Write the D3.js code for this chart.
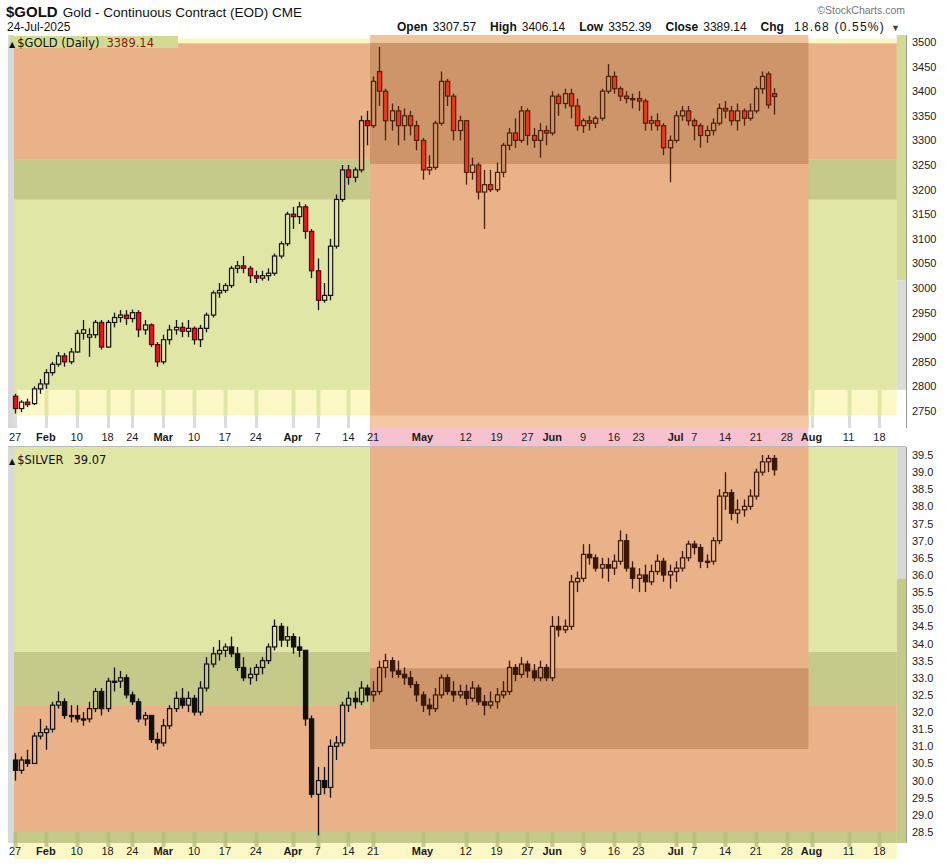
<!DOCTYPE html>
<html><head><meta charset="utf-8">
<script src="https://cdn.jsdelivr.net/npm/d3@7"></script>
<style>
body{margin:0;background:#fff;}
svg{display:block;font-family:"Liberation Sans",Arial,sans-serif;}
</style>
</head><body>
<svg id="chart" width="946" height="867"></svg>
<script>
// ---------------- DATA ----------------
const firstDay = "2025-01-27";
const lastAxisDay = "2025-08-22";
const holidays = ["2025-02-17","2025-04-18","2025-05-26","2025-06-19","2025-07-04"];

// x-axis tick labels (date, label)
const tickDates  = ["2025-01-27","2025-02-03","2025-02-10","2025-02-18","2025-02-24","2025-03-03","2025-03-10","2025-03-17","2025-03-24","2025-04-01","2025-04-07","2025-04-14","2025-04-21","2025-05-01","2025-05-12","2025-05-19","2025-05-27","2025-06-02","2025-06-09","2025-06-16","2025-06-23","2025-07-01","2025-07-07","2025-07-14","2025-07-21","2025-07-28","2025-08-01","2025-08-11","2025-08-18"];
const tickLabels = ["27","Feb","10","18","24","Mar","10","17","24","Apr","7","14","21","May","12","19","27","Jun","9","16","23","Jul","7","14","21","28","Aug","11","18"];

const goldTicks = [2750,2800,2850,2900,2950,3000,3050,3100,3150,3200,3250,3300,3350,3400,3450,3500];
const silverTicks = [28.5,29,29.5,30,30.5,31,31.5,32,32.5,33,33.5,34,34.5,35,35.5,36,36.5,37,37.5,38,38.5,39,39.5];

const headerLabels = ["Open","High","Low","Close","Chg"];
const headerValues = ["3307.57","3406.14","3352.39","3389.14","18.68 (0.55%)"];

// $GOLD daily [open, high, low, close], 27 Jan .. 24 Jul 2025
const goldOHLC = [
[2780,2785,2745,2755],[2755,2772,2748,2768],[2768,2775,2758,2763],[2765,2800,2762,2795],[2795,2815,2785,2805],
[2805,2835,2795,2828],[2828,2850,2822,2845],[2845,2870,2840,2862],[2862,2868,2840,2850],[2850,2878,2845,2870],
[2870,2915,2868,2908],[2908,2935,2895,2915],[2900,2918,2860,2905],[2905,2935,2898,2930],[2930,2935,2875,2880],
[2880,2935,2878,2930],[2930,2950,2920,2940],[2940,2955,2930,2945],[2945,2955,2925,2938],
[2938,2956,2930,2950],[2950,2955,2900,2915],[2915,2935,2905,2925],[2925,2928,2880,2885],[2885,2890,2840,2850],
[2850,2905,2845,2895],[2895,2925,2885,2915],[2915,2935,2905,2920],[2920,2930,2900,2912],[2912,2935,2900,2918],
[2918,2922,2885,2895],[2895,2925,2880,2918],[2918,2950,2910,2945],[2945,2995,2940,2990],[2990,3010,2980,2995],
[2995,3010,2990,3005],[3005,3045,3000,3040],[3040,3055,3030,3045],[3045,3065,3030,3040],[3040,3045,3010,3025],
[3025,3035,3010,3020],[3020,3035,3015,3025],[3025,3040,3015,3030],[3030,3070,3025,3065],[3065,3095,3060,3090],
[3090,3155,3085,3150],[3150,3165,3120,3145],[3145,3175,3130,3165],[3165,3170,3100,3115],[3115,3120,3020,3035],
[3035,3060,2955,2975],[2975,3010,2970,2985],[2985,3100,2975,3085],[3085,3190,3080,3180],[3180,3250,3175,3240],
[3240,3250,3210,3225],[3225,3245,3215,3240],[3240,3350,3235,3340],[3340,3360,3290,3330],
[3330,3430,3325,3420],[3440,3490,3370,3400],[3400,3405,3300,3340],[3340,3375,3320,3360],[3360,3370,3290,3330],
[3330,3365,3300,3350],[3350,3360,3310,3330],[3330,3340,3280,3300],
[3300,3305,3220,3240],[3240,3270,3230,3245],
[3245,3340,3240,3335],[3335,3440,3330,3420],[3420,3425,3370,3390],[3390,3395,3300,3320],[3320,3350,3300,3340],
[3340,3340,3210,3235],[3235,3265,3220,3250],[3250,3255,3180,3195],[3195,3240,3120,3210],[3210,3240,3195,3200],
[3200,3255,3195,3235],[3235,3295,3225,3290],[3290,3325,3280,3315],[3315,3345,3285,3300],[3300,3370,3295,3360],
[3360,3365,3290,3310],[3310,3325,3285,3300],[3300,3335,3265,3320],[3320,3330,3290,3315],
[3315,3400,3310,3390],[3390,3395,3350,3375],[3375,3405,3365,3395],[3395,3405,3345,3370],[3370,3385,3320,3330],
[3330,3345,3315,3340],[3340,3350,3320,3335],[3335,3350,3325,3345],[3345,3405,3340,3400],[3400,3455,3395,3430],
[3430,3440,3395,3405],[3405,3410,3380,3390],[3390,3400,3375,3385],[3385,3395,3365,3385],
[3385,3400,3360,3380],[3380,3385,3320,3335],[3335,3350,3320,3340],[3340,3355,3320,3330],[3330,3335,3270,3285],
[3285,3310,3215,3300],
[3300,3360,3295,3350],[3350,3370,3340,3360],[3360,3370,3330,3340],
[3340,3345,3300,3330],[3330,3335,3285,3310],[3310,3330,3295,3320],[3320,3345,3310,3335],[3335,3375,3330,3365],
[3365,3380,3345,3360],[3360,3370,3330,3340],[3340,3375,3320,3360],[3360,3365,3330,3345],[3345,3375,3340,3360],
[3360,3410,3355,3405],[3405,3440,3395,3430],[3435,3440,3365,3372],[3395,3406.14,3352.39,3389.14]
];

// $SILVER daily [open, high, low, close]
const silverOHLC = [
[30.6,30.8,30.0,30.3],[30.3,30.7,30.2,30.6],[30.6,30.9,30.4,30.5],[30.5,31.4,30.5,31.3],[31.3,31.8,31.2,31.4],
[31.4,31.6,30.9,31.5],[31.5,32.3,31.4,32.2],[32.2,32.6,32.1,32.3],[32.3,32.4,31.8,31.9],[31.9,32.2,31.7,31.9],
[31.9,32.2,31.7,31.8],[31.8,32.0,31.6,31.8],[31.8,32.3,31.7,32.1],[32.1,32.7,32.0,32.6],[32.6,32.7,31.9,32.1],
[32.1,33.0,32.0,32.9],[32.9,33.3,32.6,32.9],[32.9,33.2,32.7,33.0],[33.0,33.1,32.4,32.5],
[32.5,32.6,32.2,32.3],[32.3,32.4,31.7,31.8],[31.8,32.0,31.6,31.9],[31.9,31.9,31.1,31.2],[31.2,31.4,30.9,31.1],
[31.1,31.8,31.0,31.6],[31.6,32.2,31.5,32.1],[32.1,32.6,32.0,32.4],[32.4,32.7,32.1,32.2],[32.2,32.6,32.0,32.4],
[32.4,32.5,31.9,32.0],[32.0,32.9,31.9,32.7],[32.7,33.6,32.6,33.4],[33.4,33.9,33.3,33.7],[33.7,34.1,33.5,33.8],
[33.8,34.0,33.6,33.9],[33.9,34.2,33.6,33.7],[33.7,33.9,33.2,33.3],[33.3,33.6,32.9,33.0],[33.0,33.3,32.8,33.1],
[33.1,33.4,32.9,33.3],[33.3,33.6,33.1,33.5],[33.5,34.0,33.4,33.9],[33.9,34.7,33.8,34.5],[34.5,34.6,33.9,34.1],
[34.1,34.5,33.9,34.2],[34.2,34.3,33.7,33.9],[33.9,34.2,33.6,33.8],[33.8,33.8,31.6,31.8],[31.8,31.9,29.5,29.6],
[29.6,30.4,28.4,30.0],[30.0,30.4,29.6,29.8],[29.8,31.2,29.5,31.0],[31.0,31.3,30.6,31.1],[31.1,32.3,31.0,32.2],
[32.2,32.6,32.0,32.4],[32.4,32.6,32.1,32.3],[32.3,32.9,32.2,32.7],[32.7,32.8,32.3,32.5],
[32.5,32.9,32.3,32.6],[32.6,33.5,32.5,33.3],[33.3,33.7,33.0,33.5],[33.5,33.6,33.0,33.2],[33.2,33.5,33.0,33.1],
[33.1,33.3,32.8,33.0],[33.0,33.2,32.7,32.8],[32.8,32.9,32.3,32.5],
[32.5,32.6,32.0,32.2],[32.2,32.4,31.9,32.1],
[32.1,32.7,32.0,32.5],[32.5,33.1,32.4,33.0],[33.0,33.1,32.5,32.6],[32.6,32.9,32.3,32.5],[32.5,32.8,32.4,32.6],
[32.6,32.8,32.2,32.4],[32.4,32.9,32.3,32.7],[32.7,32.8,32.2,32.3],[32.3,32.5,31.9,32.2],[32.2,32.6,32.1,32.3],
[32.3,32.7,32.1,32.5],[32.5,32.9,32.4,32.6],[32.6,33.5,32.5,33.3],[33.3,33.4,32.9,33.1],[33.1,33.6,33.0,33.4],
[33.4,33.5,33.0,33.2],[33.2,33.4,32.9,33.0],[33.0,33.5,32.9,33.3],[33.3,33.4,32.9,33.0],
[33.0,34.8,32.9,34.5],[34.5,34.8,34.2,34.4],[34.4,34.7,34.3,34.5],[34.5,36.0,34.4,35.8],[35.8,36.1,35.5,35.9],
[35.9,36.9,35.8,36.6],[36.6,36.9,36.3,36.5],[36.5,36.6,36.1,36.2],[36.2,36.5,35.9,36.3],[36.3,36.5,35.8,36.2],
[36.2,36.6,36.0,36.4],[36.4,37.3,36.3,37.0],[37.0,37.2,36.1,36.2],[36.2,36.4,35.6,35.9],
[35.9,36.2,35.5,36.0],[36.0,36.3,35.5,35.8],[35.8,36.3,35.7,36.1],[36.1,36.6,36.0,36.4],[36.4,36.5,35.8,36.0],
[36.0,36.3,35.6,36.1],
[36.1,36.4,35.8,36.2],[36.2,36.7,36.1,36.5],[36.5,37.0,36.4,36.9],
[36.9,37.0,36.6,36.8],[36.8,36.9,36.2,36.4],[36.4,36.6,36.2,36.4],[36.4,37.1,36.3,37.0],[37.0,38.5,36.9,38.3],
[38.3,39.0,37.9,38.4],[38.4,38.5,37.6,37.8],[37.8,38.2,37.5,37.9],[37.9,38.2,37.7,38.0],[38.0,38.5,37.9,38.3],
[38.3,39.1,38.2,39.0],[39.0,39.5,38.9,39.3],[39.3,39.5,39.0,39.4],[39.4,39.5,38.9,39.07]
];

// highlighted zones (value terms)
const focusStart = "2025-04-17", focusEnd = "2025-07-31";
const goldZones   = {upper: 3262, mid: 3180, pale: 2793, paleEnd: 2741, focusSplit: 3252, rightGrey: 3015};
const silverZones = {mid: 33.75, low: 32.2, floor: 28.5, focusHi: 33.28, focusLo: 30.92, rightGrey: 35.9};

// ---------------- BUILD ----------------
const fmt = d3.timeFormat("%Y-%m-%d");
const parse = d3.timeParse("%Y-%m-%d");
const days = d3.timeDay.range(parse(firstDay), d3.timeDay.offset(parse(lastAxisDay),1))
  .filter(d => d.getDay()!==0 && d.getDay()!==6 && !holidays.includes(fmt(d)))
  .map(fmt);
const idx = s => days.indexOf(s);

const L = 8, R = 906;
const x = d3.scaleLinear().domain([-1.134, 144.3]).range([L, R]);
const ZL = x(-0.15), ZR = x(142.8);

const svg = d3.select("#chart");
const C = {
  lightGreen:"#dfe6a6", darkGreen:"#c5ca8b", orange:"#e9b288", brown:"#cd9569",
  pale:"#fbf8c6", pink:"#f6c2cf", grey:"#d9d9d9"
};
const fx0 = x(idx(focusStart)+0.5), fx1 = x(idx(focusEnd)+0.5);

function rect(g, x0, x1, y0, y1, fill){
  g.append("rect").attr("x",x0).attr("y",Math.min(y0,y1)).attr("width",x1-x0)
   .attr("height",Math.abs(y1-y0)).attr("fill",fill);
}
function gridCols(g, y0, y1, color, w){
  g.append("g").selectAll("rect").data(tickDates).join("rect")
    .attr("x", t => Math.round(x(idx(t)))-w/2+0.5).attr("width", w)
    .attr("y", Math.min(y0,y1)).attr("height", Math.abs(y1-y0)).attr("fill", color);
}

function candles(g, data, y, pal){
  const sel = g.append("g").selectAll("g").data(data).join("g");
  sel.each(function(d,i){
    const inF = i>idx(focusStart);
    const p = inF ? pal.focus : pal.normal;
    const cx = Math.round(x(i));
    const up = d[3] >= d[0];
    const s = d3.select(this);
    s.append("line").attr("x1",cx+0.5).attr("x2",cx+0.5).attr("y1",y(d[1])).attr("y2",y(d[2]))
      .attr("stroke",p.wick).attr("stroke-width",1.3);
    const top = y(Math.max(d[0],d[3])), bot = y(Math.min(d[0],d[3]));
    s.append("rect").attr("x",cx-1.5).attr("y",top).attr("width",4.2).attr("height",Math.max(1.2,bot-top))
      .attr("fill", up ? (inF? pal.focusBg(d): pal.bg(d)) : p.down)
      .attr("stroke", up ? p.wick : p.downStroke).attr("stroke-width",1.2);
  });
}

// ===== TOP PANEL =====
const yG = d3.scaleLinear().domain([2750,3500]).range([411,42]);
const topT = 35, topB = 428;
const gTop = svg.append("g");
rect(gTop, L, R, topT, topB, "#ffffff");
rect(gTop, L, ZL, topT, topB, C.grey);
gridCols(gTop, yG(goldZones.paleEnd), topB, "#dcdcdc", 3);
rect(gTop, ZL, ZR, yG(goldZones.paleEnd), yG(3507), C.pale);
gridCols(gTop, yG(goldZones.paleEnd), yG(goldZones.pale), C.lightGreen, 4);
rect(gTop, ZL, ZR, yG(goldZones.pale), yG(3497), C.lightGreen);
rect(gTop, ZL, ZR, yG(goldZones.mid), yG(goldZones.upper), C.darkGreen);
rect(gTop, ZL, ZR, yG(goldZones.upper), yG(3497), C.orange);
rect(gTop, ZR, R, yG(goldZones.rightGrey), topT, "#d2da96");
rect(gTop, ZR, R, yG(goldZones.pale), yG(goldZones.rightGrey), "#dcdcdc");
rect(gTop, fx0, fx1, topB, yG(goldZones.focusSplit), C.orange);
rect(gTop, fx0, fx1, yG(goldZones.focusSplit), yG(3499), C.brown);
rect(gTop, fx0, fx1, yG(3499), topT, "#f1c59c");
rect(gTop, fx0, fx1, yG(goldZones.paleEnd), topB, "#f3c8a2");

const goldBg = d => { const c=(d[0]+d[3])/2; return c>goldZones.upper?C.orange:(c>goldZones.mid?C.darkGreen:(c>goldZones.pale?C.lightGreen:C.pale)); };
candles(gTop, goldOHLC, yG, {
  normal:{wick:"#141414", down:"#e5141e", downStroke:"#5a0508"},
  focus:{wick:"#4a2008", down:"#e83a22", downStroke:"#5a1e08"},
  bg: goldBg,
  focusBg: d => ((d[0]+d[3])/2 > goldZones.focusSplit ? C.brown : C.orange)
});
gTop.append("line").attr("x1",R+0.5).attr("x2",R+0.5).attr("y1",topT).attr("y2",topB).attr("stroke","#9a9a9a");

const yAxG = d3.axisRight(yG).tickValues(goldTicks).tickSize(0).tickPadding(6).tickFormat(d3.format("d"));
gTop.append("g").attr("transform",`translate(${R},0)`).call(yAxG)
  .call(g=>g.select(".domain").remove())
  .call(g=>g.selectAll("text").attr("font-size",11).attr("fill","#222").attr("font-family","Liberation Sans, Arial"));

const rowTop0 = 428, rowTop1 = 446;
rect(gTop, L, R, rowTop0, rowTop1, "#ffffff");
rect(gTop, fx0, fx1, rowTop0, rowTop1, C.pink);
gTop.append("line").attr("x1",L).attr("x2",R).attr("y1",rowTop1+0.5).attr("y2",rowTop1+0.5).attr("stroke","#bbbbbb");

function xLabels(g, baseline){
  g.append("g").selectAll("text").data(tickDates).join("text")
    .attr("x", t => x(idx(t))).attr("y", baseline).attr("text-anchor","middle")
    .attr("font-size",11).attr("fill","#1a1a1a")
    .attr("font-weight",(t,i)=> isNaN(+tickLabels[i]) ? "bold" : "normal")
    .text((t,i)=>tickLabels[i]);
}
xLabels(gTop, 441);

// ===== BOTTOM PANEL =====
const yS = d3.scaleLinear().domain([28.5,39.5]).range([832,455]);
const botT = 447, botB = 843;
const gBot = svg.append("g");
rect(gBot, L, R, botT, botB, "#ffffff");
rect(gBot, L, ZL, botT, botB, C.grey);
rect(gBot, ZL, ZR, botT, botB, C.lightGreen);
rect(gBot, ZL, ZR, yS(silverZones.low), yS(silverZones.mid), C.darkGreen);
rect(gBot, ZL, ZR, yS(silverZones.floor), yS(silverZones.low), C.orange);
rect(gBot, ZL, ZR, botB, yS(silverZones.floor), C.darkGreen);
gridCols(gBot, botB, yS(silverZones.floor), "#b9bf80", 4);
rect(gBot, ZR, R, botT, yS(silverZones.rightGrey), "#d8d8d8");
rect(gBot, ZR, R, yS(silverZones.rightGrey), botB, C.darkGreen);
rect(gBot, fx0, fx1, yS(silverZones.floor), botT, C.orange);
rect(gBot, fx0, fx1, yS(silverZones.focusLo), yS(silverZones.focusHi), C.brown);

const silverBg = d => { const c=(d[0]+d[3])/2; return c>silverZones.mid?C.lightGreen:(c>silverZones.low?C.darkGreen:C.orange); };
candles(gBot, silverOHLC, yS, {
  normal:{wick:"#101010", down:"#101010", downStroke:"#101010"},
  focus:{wick:"#3a1805", down:"#3a1805", downStroke:"#3a1805"},
  bg: silverBg,
  focusBg: d => { const c=(d[0]+d[3])/2; return (c<silverZones.focusHi && c>silverZones.focusLo)?C.brown:C.orange; }
});
gBot.append("line").attr("x1",R+0.5).attr("x2",R+0.5).attr("y1",botT).attr("y2",botB).attr("stroke","#9a9a9a");
const yAxS = d3.axisRight(yS).tickValues(silverTicks).tickSize(0).tickPadding(6).tickFormat(d3.format(".1f"));
gBot.append("g").attr("transform",`translate(${R},0)`).call(yAxS)
  .call(g=>g.select(".domain").remove())
  .call(g=>g.selectAll("text").attr("font-size",11).attr("fill","#222").attr("font-family","Liberation Sans, Arial"));
rect(gBot, ZL, ZR, botB, 859, C.pale);
gridCols(gBot, botB, botB+4, C.darkGreen, 4);
xLabels(gBot, 855);

// ===== TITLES & LEGENDS =====
const t1 = svg.append("text").attr("x",6).attr("y",17).attr("fill","#111");
t1.append("tspan").attr("font-weight","bold").attr("font-size",15).text("$GOLD");
t1.append("tspan").attr("font-size",13.5).attr("dx",5).text("Gold - Continuous Contract (EOD) CME");
svg.append("text").attr("x",7).attr("y",31).attr("font-size",12).attr("fill","#111").text("24-Jul-2025");

const t2 = svg.append("text").attr("x",397).attr("y",31).attr("font-size",12).attr("fill","#111");
headerLabels.forEach((lab,i)=>{
  t2.append("tspan").attr("font-weight","bold").attr("dx", i? 14:0).text(lab);
  t2.append("tspan").attr("dx", i===4 ? 10 : 5).attr("letter-spacing", i===4 ? 1.2 : 0).text(headerValues[i]);
});
t2.append("tspan").attr("dx",6).attr("font-size",9).attr("fill","#444").text("▼");
svg.append("text").attr("x",905).attr("y",14).attr("text-anchor","end").attr("font-size",10.5).attr("fill","#777").text("©StockCharts.com");

// legends
rect(svg, 10, 178, 36, 48, "#d3db93");
const lg = svg.append("text").attr("x",9).attr("y",46.5).attr("font-size",11.5)
  .attr("font-family","DejaVu Sans, sans-serif").attr("fill","#111");
lg.append("tspan").attr("font-size",8).text("▲");
lg.append("tspan").attr("dx",2).text("$GOLD (Daily)");
lg.append("tspan").attr("dx",7).attr("fill","#9a1010").text("3389.14");
const ls = svg.append("text").attr("x",9).attr("y",464).attr("font-size",11.5)
  .attr("font-family","DejaVu Sans, sans-serif").attr("fill","#111");
ls.append("tspan").attr("font-size",8).text("▲");
ls.append("tspan").attr("dx",2).text("$SILVER");
ls.append("tspan").attr("dx",10).attr("fill","#111").text("39.07");
</script>
</body></html>
